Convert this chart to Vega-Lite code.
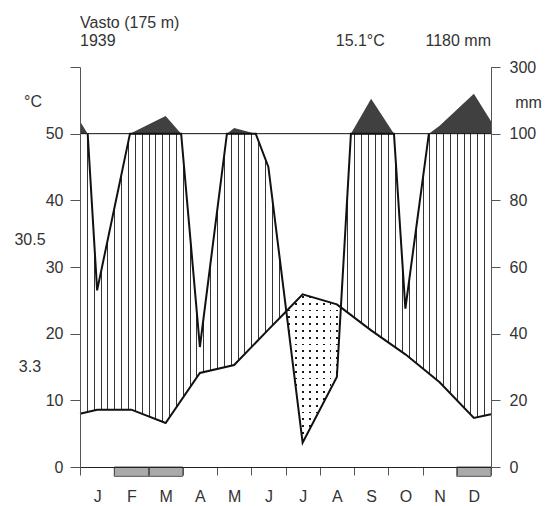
{
  "$schema": "https://vega.github.io/schema/vega-lite/v6.json",
  "width": 411,
  "height": 400,
  "autosize": {"type": "none"},
  "padding": {"left": 80, "top": 67, "right": 58, "bottom": 39},
  "background": "white",
  "config": {"view": {"stroke": null}, "font": "Liberation Sans"},
  "datasets": {
    "temp": [
      {"m": 0, "t": 8.0}, {"m": 0.5, "t": 8.6}, {"m": 1.5, "t": 8.6}, {"m": 2.5, "t": 6.6},
      {"m": 3.5, "t": 14.1}, {"m": 4.5, "t": 15.3}, {"m": 5.5, "t": 20.6}, {"m": 6.023, "t": 23.37},
      {"m": 6.5, "t": 25.9}, {"m": 7.5, "t": 24.4}, {"m": 7.617, "t": 23.94}, {"m": 8.5, "t": 20.5},
      {"m": 9.5, "t": 16.9}, {"m": 10.5, "t": 12.7}, {"m": 11.5, "t": 7.35}, {"m": 12, "t": 7.9}
    ],
    "precip": [
      {"m": 0, "mm": 137}, {"m": 0.224, "mm": 100}, {"m": 0.5, "mm": 53}, {"m": 1.459, "mm": 100},
      {"m": 1.5, "mm": 102}, {"m": 2.5, "mm": 153}, {"m": 2.953, "mm": 100}, {"m": 3.5, "mm": 36},
      {"m": 4.29, "mm": 100}, {"m": 4.5, "mm": 117}, {"m": 5.13, "mm": 100}, {"m": 5.5, "mm": 90},
      {"m": 6.023, "mm": 46.75}, {"m": 6.5, "mm": 7.3}, {"m": 7.5, "mm": 27}, {"m": 7.617, "mm": 47.88},
      {"m": 7.91, "mm": 100}, {"m": 8.5, "mm": 205}, {"m": 9.167, "mm": 100}, {"m": 9.5, "mm": 47.5},
      {"m": 10.186, "mm": 100}, {"m": 10.5, "mm": 124}, {"m": 11.5, "mm": 220}, {"m": 12, "mm": 137}
    ],
    "frost": [{"m": 1, "m2": 2}, {"m": 2, "m2": 3}, {"m": 11, "m2": 12}]
  },
  "resolve": {"scale": {"y": "independent"}, "axis": {"x": "independent"}},
  "layer": [
    {
      "data": {"name": "temp"},
      "mark": {"type": "area", "fill": "white"},
      "encoding": {
        "x": {"field": "m", "type": "quantitative", "scale": {"domain": [0, 12], "nice": false, "zero": false},
          "axis": {
            "orient": "bottom",
            "values": [0,0.2,0.4,0.6,0.8,1,1.2,1.4,1.6,1.8,2,2.2,2.4,2.6,2.8,3,3.2,3.4,3.6,3.8,4,4.2,4.4,4.6,4.8,5,5.2,5.4,5.6,5.8,6,6.2,6.4,6.6,6.8,7,7.2,7.4,7.6,7.8,8,8.2,8.4,8.6,8.8,9,9.2,9.4,9.6,9.8,10,10.2,10.4,10.6,10.8,11,11.2,11.4,11.6,11.8,12],
            "grid": true, "gridColor": "#333", "gridWidth": 1, "gridOpacity": 1,
            "domain": false, "ticks": false, "labels": false, "title": null, "zindex": 0
          }
        },
        "y": {"field": "t", "type": "quantitative", "scale": {"domain": [0, 60], "nice": false, "zero": false},
          "axis": {
            "orient": "left", "values": [0, 10, 20, 30, 40, 50, 60],
            "labelExpr": "datum.value == 60 ? '' : datum.label",
            "grid": false, "zindex": 1, "domainColor": "#555", "tickColor": "#555", "tickSize": 10,
            "labelPadding": 7, "labelFont": "Liberation Sans", "labelFontSize": 16, "labelColor": "#333",
            "title": "°C", "titleAngle": 0, "titleX": -47.5, "titleY": 34.5, "titleAlign": "center", "titleBaseline": "middle",
            "titleFont": "Liberation Sans", "titleFontSize": 16, "titleFontWeight": "normal", "titleColor": "#333"
          }
        },
        "y2": {"datum": 0}
      }
    },
    {
      "data": {"name": "precip"},
      "transform": [{"filter": "datum.mm <= 100"}],
      "mark": {"type": "area", "fill": "white"},
      "encoding": {
        "x": {"field": "m", "type": "quantitative", "scale": {"domain": [0, 12], "nice": false, "zero": false},
          "axis": {
            "orient": "bottom",
            "values": [0.5, 1.5, 2.5, 3.5, 4.5, 5.5, 6.5, 7.5, 8.5, 9.5, 10.5, 11.5],
            "labelExpr": "substring('JFMAMJJASOND', floor(datum.value), floor(datum.value) + 1)",
            "grid": false, "domain": false, "ticks": false, "labelPadding": 21, "labelFlush": false, "labelOverlap": false,
            "labelFont": "Liberation Sans", "labelFontSize": 16, "labelColor": "#333", "title": null, "zindex": 1
          }
        },
        "y": {"field": "mm", "type": "quantitative", "scale": {"domain": [0, 120], "nice": false, "zero": false},
          "axis": {
            "orient": "right", "values": [0, 20, 40, 60, 80, 100, 120],
            "labelExpr": "datum.value == 120 ? '300' : datum.label",
            "grid": false, "zindex": 1, "domainColor": "#555", "tickColor": "#555", "tickSize": 9,
            "labelPadding": 9, "labelFont": "Liberation Sans", "labelFontSize": 16, "labelColor": "#333",
            "title": "mm", "titleAngle": 0, "titleX": 37, "titleY": 35, "titleAlign": "center", "titleBaseline": "middle",
            "titleFont": "Liberation Sans", "titleFontSize": 16, "titleFontWeight": "normal", "titleColor": "#333"
          }
        },
        "y2": {"datum": 120}
      }
    },
    {
      "data": {"values": [{}]},
      "mark": {"type": "rect", "fill": "white"},
      "encoding": {
        "x": {"datum": 0, "type": "quantitative", "scale": {"domain": [0, 12], "nice": false, "zero": false},
          "axis": {
            "orient": "bottom", "values": [0,1,2,3,4,5,6,7,8,9,10,11,12],
            "labels": false, "grid": false, "domain": true, "domainColor": "#222", "ticks": true, "tickSize": 8,
            "tickColor": "#555", "title": null, "zindex": 1
          }
        },
        "x2": {"datum": 12},
        "y": {"datum": 50, "type": "quantitative", "scale": {"domain": [0, 60], "nice": false, "zero": false}, "axis": null},
        "y2": {"datum": 60}
      }
    },
    {
      "data": {"name": "precip"},
      "transform": [{"filter": "datum.mm >= 100"}],
      "mark": {"type": "area", "fill": "#404040"},
      "encoding": {
        "x": {"field": "m", "type": "quantitative", "scale": {"domain": [0, 12], "nice": false, "zero": false}, "axis": null},
        "y": {"field": "mm", "type": "quantitative", "scale": {"domain": [-900, 300], "nice": false, "zero": false}, "axis": null},
        "y2": {"datum": 100}
      }
    },
    {
      "data": {"name": "precip"},
      "transform": [{"filter": "datum.m >= 6.02 && datum.m <= 7.62"}],
      "mark": {"type": "area", "fill": {"gradient": "linear", "x1": 0, "y1": 0, "x2": 1, "y2": 0, "stops": [
        {"offset": 0, "color": "rgba(0,0,0,0)"},
        {"offset": 0.03, "color": "rgba(0,0,0,0)"}, {"offset": 0.03, "color": "#1a1a1a"}, {"offset": 0.065, "color": "#1a1a1a"}, {"offset": 0.065, "color": "rgba(0,0,0,0)"},
        {"offset": 0.157, "color": "rgba(0,0,0,0)"}, {"offset": 0.157, "color": "#1a1a1a"}, {"offset": 0.192, "color": "#1a1a1a"}, {"offset": 0.192, "color": "rgba(0,0,0,0)"},
        {"offset": 0.284, "color": "rgba(0,0,0,0)"}, {"offset": 0.284, "color": "#1a1a1a"}, {"offset": 0.319, "color": "#1a1a1a"}, {"offset": 0.319, "color": "rgba(0,0,0,0)"},
        {"offset": 0.411, "color": "rgba(0,0,0,0)"}, {"offset": 0.411, "color": "#1a1a1a"}, {"offset": 0.446, "color": "#1a1a1a"}, {"offset": 0.446, "color": "rgba(0,0,0,0)"},
        {"offset": 0.538, "color": "rgba(0,0,0,0)"}, {"offset": 0.538, "color": "#1a1a1a"}, {"offset": 0.573, "color": "#1a1a1a"}, {"offset": 0.573, "color": "rgba(0,0,0,0)"},
        {"offset": 0.665, "color": "rgba(0,0,0,0)"}, {"offset": 0.665, "color": "#1a1a1a"}, {"offset": 0.7, "color": "#1a1a1a"}, {"offset": 0.7, "color": "rgba(0,0,0,0)"},
        {"offset": 0.792, "color": "rgba(0,0,0,0)"}, {"offset": 0.792, "color": "#1a1a1a"}, {"offset": 0.827, "color": "#1a1a1a"}, {"offset": 0.827, "color": "rgba(0,0,0,0)"},
        {"offset": 0.919, "color": "rgba(0,0,0,0)"}, {"offset": 0.919, "color": "#1a1a1a"}, {"offset": 0.954, "color": "#1a1a1a"}, {"offset": 0.954, "color": "rgba(0,0,0,0)"},
        {"offset": 1, "color": "rgba(0,0,0,0)"}
      ]}},
      "encoding": {
        "x": {"field": "m", "type": "quantitative", "scale": {"domain": [0, 12], "nice": false, "zero": false}, "axis": null},
        "y": {"field": "mm", "type": "quantitative", "scale": {"domain": [0, 120], "nice": false, "zero": false}, "axis": null},
        "y2": {"datum": 60}
      }
    },
    {
      "data": {"name": "precip"},
      "transform": [{"filter": "datum.m >= 6.02 && datum.m <= 7.62"}],
      "mark": {"type": "area", "fill": {"gradient": "linear", "x1": 0, "y1": 0, "x2": 0, "y2": 1, "stops": [
        {"offset": 0, "color": "#ffffff"},
        {"offset": 0.01, "color": "#ffffff"}, {"offset": 0.01, "color": "rgba(255,255,255,0)"}, {"offset": 0.0208, "color": "rgba(255,255,255,0)"}, {"offset": 0.0208, "color": "#ffffff"},
        {"offset": 0.0487, "color": "#ffffff"}, {"offset": 0.0487, "color": "rgba(255,255,255,0)"}, {"offset": 0.0595, "color": "rgba(255,255,255,0)"}, {"offset": 0.0595, "color": "#ffffff"},
        {"offset": 0.0874, "color": "#ffffff"}, {"offset": 0.0874, "color": "rgba(255,255,255,0)"}, {"offset": 0.0982, "color": "rgba(255,255,255,0)"}, {"offset": 0.0982, "color": "#ffffff"},
        {"offset": 0.1261, "color": "#ffffff"}, {"offset": 0.1261, "color": "rgba(255,255,255,0)"}, {"offset": 0.1369, "color": "rgba(255,255,255,0)"}, {"offset": 0.1369, "color": "#ffffff"},
        {"offset": 0.1648, "color": "#ffffff"}, {"offset": 0.1648, "color": "rgba(255,255,255,0)"}, {"offset": 0.1756, "color": "rgba(255,255,255,0)"}, {"offset": 0.1756, "color": "#ffffff"},
        {"offset": 0.2035, "color": "#ffffff"}, {"offset": 0.2035, "color": "rgba(255,255,255,0)"}, {"offset": 0.2143, "color": "rgba(255,255,255,0)"}, {"offset": 0.2143, "color": "#ffffff"},
        {"offset": 0.2422, "color": "#ffffff"}, {"offset": 0.2422, "color": "rgba(255,255,255,0)"}, {"offset": 0.253, "color": "rgba(255,255,255,0)"}, {"offset": 0.253, "color": "#ffffff"},
        {"offset": 0.2809, "color": "#ffffff"}, {"offset": 0.2809, "color": "rgba(255,255,255,0)"}, {"offset": 0.2917, "color": "rgba(255,255,255,0)"}, {"offset": 0.2917, "color": "#ffffff"},
        {"offset": 0.3196, "color": "#ffffff"}, {"offset": 0.3196, "color": "rgba(255,255,255,0)"}, {"offset": 0.3304, "color": "rgba(255,255,255,0)"}, {"offset": 0.3304, "color": "#ffffff"},
        {"offset": 0.3583, "color": "#ffffff"}, {"offset": 0.3583, "color": "rgba(255,255,255,0)"}, {"offset": 0.3691, "color": "rgba(255,255,255,0)"}, {"offset": 0.3691, "color": "#ffffff"},
        {"offset": 0.397, "color": "#ffffff"}, {"offset": 0.397, "color": "rgba(255,255,255,0)"}, {"offset": 0.4078, "color": "rgba(255,255,255,0)"}, {"offset": 0.4078, "color": "#ffffff"},
        {"offset": 0.4357, "color": "#ffffff"}, {"offset": 0.4357, "color": "rgba(255,255,255,0)"}, {"offset": 0.4465, "color": "rgba(255,255,255,0)"}, {"offset": 0.4465, "color": "#ffffff"},
        {"offset": 0.4744, "color": "#ffffff"}, {"offset": 0.4744, "color": "rgba(255,255,255,0)"}, {"offset": 0.4852, "color": "rgba(255,255,255,0)"}, {"offset": 0.4852, "color": "#ffffff"},
        {"offset": 0.5131, "color": "#ffffff"}, {"offset": 0.5131, "color": "rgba(255,255,255,0)"}, {"offset": 0.5239, "color": "rgba(255,255,255,0)"}, {"offset": 0.5239, "color": "#ffffff"},
        {"offset": 0.5518, "color": "#ffffff"}, {"offset": 0.5518, "color": "rgba(255,255,255,0)"}, {"offset": 0.5626, "color": "rgba(255,255,255,0)"}, {"offset": 0.5626, "color": "#ffffff"},
        {"offset": 0.5905, "color": "#ffffff"}, {"offset": 0.5905, "color": "rgba(255,255,255,0)"}, {"offset": 0.6013, "color": "rgba(255,255,255,0)"}, {"offset": 0.6013, "color": "#ffffff"},
        {"offset": 0.6292, "color": "#ffffff"}, {"offset": 0.6292, "color": "rgba(255,255,255,0)"}, {"offset": 0.64, "color": "rgba(255,255,255,0)"}, {"offset": 0.64, "color": "#ffffff"},
        {"offset": 0.6679, "color": "#ffffff"}, {"offset": 0.6679, "color": "rgba(255,255,255,0)"}, {"offset": 0.6787, "color": "rgba(255,255,255,0)"}, {"offset": 0.6787, "color": "#ffffff"},
        {"offset": 0.7066, "color": "#ffffff"}, {"offset": 0.7066, "color": "rgba(255,255,255,0)"}, {"offset": 0.7174, "color": "rgba(255,255,255,0)"}, {"offset": 0.7174, "color": "#ffffff"},
        {"offset": 0.7453, "color": "#ffffff"}, {"offset": 0.7453, "color": "rgba(255,255,255,0)"}, {"offset": 0.7561, "color": "rgba(255,255,255,0)"}, {"offset": 0.7561, "color": "#ffffff"},
        {"offset": 0.784, "color": "#ffffff"}, {"offset": 0.784, "color": "rgba(255,255,255,0)"}, {"offset": 0.7948, "color": "rgba(255,255,255,0)"}, {"offset": 0.7948, "color": "#ffffff"},
        {"offset": 0.8227, "color": "#ffffff"}, {"offset": 0.8227, "color": "rgba(255,255,255,0)"}, {"offset": 0.8335, "color": "rgba(255,255,255,0)"}, {"offset": 0.8335, "color": "#ffffff"},
        {"offset": 0.8614, "color": "#ffffff"}, {"offset": 0.8614, "color": "rgba(255,255,255,0)"}, {"offset": 0.8722, "color": "rgba(255,255,255,0)"}, {"offset": 0.8722, "color": "#ffffff"},
        {"offset": 0.9001, "color": "#ffffff"}, {"offset": 0.9001, "color": "rgba(255,255,255,0)"}, {"offset": 0.9109, "color": "rgba(255,255,255,0)"}, {"offset": 0.9109, "color": "#ffffff"},
        {"offset": 0.9388, "color": "#ffffff"}, {"offset": 0.9388, "color": "rgba(255,255,255,0)"}, {"offset": 0.9496, "color": "rgba(255,255,255,0)"}, {"offset": 0.9496, "color": "#ffffff"},
        {"offset": 0.9775, "color": "#ffffff"}, {"offset": 0.9775, "color": "rgba(255,255,255,0)"}, {"offset": 0.9883, "color": "rgba(255,255,255,0)"}, {"offset": 0.9883, "color": "#ffffff"},
        {"offset": 1, "color": "#ffffff"}
      ]}},
      "encoding": {
        "x": {"field": "m", "type": "quantitative", "scale": {"domain": [0, 12], "nice": false, "zero": false}, "axis": null},
        "y": {"field": "mm", "type": "quantitative", "scale": {"domain": [0, 120], "nice": false, "zero": false}, "axis": null},
        "y2": {"datum": 60}
      }
    },
    {
      "data": {"name": "temp"},
      "transform": [{"filter": "datum.m >= 6.02 && datum.m <= 7.62"}],
      "mark": {"type": "area", "fill": "white"},
      "encoding": {
        "x": {"field": "m", "type": "quantitative", "scale": {"domain": [0, 12], "nice": false, "zero": false}, "axis": null},
        "y": {"field": "t", "type": "quantitative", "scale": {"domain": [0, 60], "nice": false, "zero": false}, "axis": null},
        "y2": {"datum": 30}
      }
    },
    {
      "data": {"values": [{}]},
      "mark": {"type": "rule", "color": "#111", "strokeWidth": 1},
      "encoding": {
        "y": {"datum": 50, "type": "quantitative", "scale": {"domain": [0, 60], "nice": false, "zero": false}, "axis": null}
      }
    },
    {
      "data": {"name": "precip"},
      "transform": [{"filter": "datum.mm <= 100"}],
      "mark": {"type": "line", "color": "#111", "strokeWidth": 2},
      "encoding": {
        "x": {"field": "m", "type": "quantitative", "scale": {"domain": [0, 12], "nice": false, "zero": false}, "axis": null},
        "y": {"field": "mm", "type": "quantitative", "scale": {"domain": [0, 120], "nice": false, "zero": false}, "axis": null}
      }
    },
    {
      "data": {"name": "temp"},
      "mark": {"type": "line", "color": "#111", "strokeWidth": 2},
      "encoding": {
        "x": {"field": "m", "type": "quantitative", "scale": {"domain": [0, 12], "nice": false, "zero": false}, "axis": null},
        "y": {"field": "t", "type": "quantitative", "scale": {"domain": [0, 60], "nice": false, "zero": false}, "axis": null}
      }
    },
    {
      "data": {"name": "frost"},
      "mark": {"type": "rect", "fill": "#aaaaaa", "stroke": "#555555", "strokeWidth": 1},
      "encoding": {
        "x": {"field": "m", "type": "quantitative", "scale": {"domain": [0, 12], "nice": false, "zero": false}, "axis": null},
        "x2": {"field": "m2"},
        "y": {"datum": 0, "type": "quantitative", "scale": {"domain": [0, 60], "nice": false, "zero": false}, "axis": null},
        "y2": {"datum": -1.4}
      }
    },
    {
      "data": {"values": [{}]},
      "mark": {"type": "text", "align": "left", "baseline": "middle", "font": "Liberation Sans", "fontSize": 16, "color": "#333"},
      "encoding": {
        "x": {"datum": 0, "type": "quantitative", "scale": {"domain": [0, 12], "nice": false, "zero": false}, "axis": null},
        "y": {"datum": 66.65, "type": "quantitative", "scale": {"domain": [0, 60], "nice": false, "zero": false}, "axis": null},
        "text": {"value": "Vasto (175 m)"}
      }
    },
    {
      "data": {"values": [{}]},
      "mark": {"type": "text", "align": "left", "baseline": "middle", "font": "Liberation Sans", "fontSize": 16, "color": "#333"},
      "encoding": {
        "x": {"datum": 0, "type": "quantitative", "scale": {"domain": [0, 12], "nice": false, "zero": false}, "axis": null},
        "y": {"datum": 63.95, "type": "quantitative", "scale": {"domain": [0, 60], "nice": false, "zero": false}, "axis": null},
        "text": {"value": "1939"}
      }
    },
    {
      "data": {"values": [{}]},
      "mark": {"type": "text", "align": "right", "baseline": "middle", "font": "Liberation Sans", "fontSize": 16, "color": "#333"},
      "encoding": {
        "x": {"datum": 8.9, "type": "quantitative", "scale": {"domain": [0, 12], "nice": false, "zero": false}, "axis": null},
        "y": {"datum": 63.95, "type": "quantitative", "scale": {"domain": [0, 60], "nice": false, "zero": false}, "axis": null},
        "text": {"value": "15.1°C"}
      }
    },
    {
      "data": {"values": [{}]},
      "mark": {"type": "text", "align": "right", "baseline": "middle", "font": "Liberation Sans", "fontSize": 16, "color": "#333"},
      "encoding": {
        "x": {"datum": 12, "type": "quantitative", "scale": {"domain": [0, 12], "nice": false, "zero": false}, "axis": null},
        "y": {"datum": 63.95, "type": "quantitative", "scale": {"domain": [0, 60], "nice": false, "zero": false}, "axis": null},
        "text": {"value": "1180 mm"}
      }
    },
    {
      "data": {"values": [{}]},
      "mark": {"type": "text", "align": "center", "baseline": "middle", "font": "Liberation Sans", "fontSize": 16, "color": "#333"},
      "encoding": {
        "x": {"datum": -1.46, "type": "quantitative", "scale": {"domain": [0, 12], "nice": false, "zero": false}, "axis": null},
        "y": {"datum": 34, "type": "quantitative", "scale": {"domain": [0, 60], "nice": false, "zero": false}, "axis": null},
        "text": {"value": "30.5"}
      }
    },
    {
      "data": {"values": [{}]},
      "mark": {"type": "text", "align": "center", "baseline": "middle", "font": "Liberation Sans", "fontSize": 16, "color": "#333"},
      "encoding": {
        "x": {"datum": -1.46, "type": "quantitative", "scale": {"domain": [0, 12], "nice": false, "zero": false}, "axis": null},
        "y": {"datum": 15, "type": "quantitative", "scale": {"domain": [0, 60], "nice": false, "zero": false}, "axis": null},
        "text": {"value": "3.3"}
      }
    }
  ]
}
